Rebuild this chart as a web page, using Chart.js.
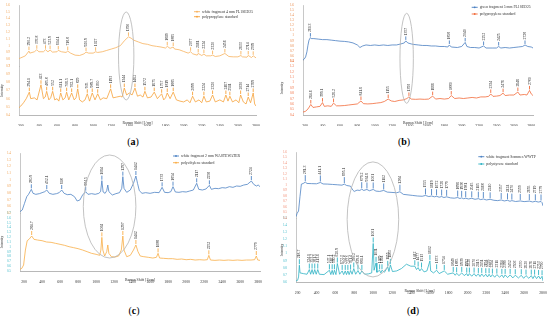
<!DOCTYPE html>
<html><head><meta charset="utf-8">
<script src="https://cdn.jsdelivr.net/npm/chart.js@4.4.1/dist/chart.umd.min.js"></script>
<style>
html,body{margin:0;padding:0;background:#fff;width:550px;height:322px;overflow:hidden;position:relative;}
canvas{position:absolute;}
.cap{position:absolute;font-family:"Liberation Serif","DejaVu Serif",serif;font-size:10px;color:#000;transform:translateX(-50%);line-height:1;white-space:nowrap;}
.cap b{font-weight:bold;}
</style></head><body>
<canvas id="ca" width="262" height="126" style="left:0;top:0"></canvas>
<canvas id="cb" width="260" height="126" style="left:280px;top:0"></canvas>
<canvas id="cc" width="265" height="133" style="left:0;top:150px"></canvas>
<canvas id="cd" width="268" height="146" style="left:280px;top:148px"></canvas>
<div class="cap" style="left:133px;top:137px">(<b>a</b>)</div>
<div class="cap" style="left:404px;top:137px">(<b>b</b>)</div>
<div class="cap" style="left:134px;top:306px">(<b>c</b>)</div>
<div class="cap" style="left:413px;top:306px">(<b>d</b>)</div>
<script>
const xTicks = [200,400,600,800,1000,1200,1400,1600,1800,2000,2200,2400,2600,2800];

// ---- (a) ----
const aTop = [[180,.81],[200,.82],[250,.85],[290.2,.92],[300,.89],[350,.91],[376.8,.94],[400,.91],[450,.91],[473,.94],[500,.91],[523.9,.935],[550,.905],[600,.91],[614.1,.93],[650,.91],[700,.90],[718.8,.92],[750,.89],[800,.86],[850,.855],[900,.88],[920.9,.905],[950,.89],[1000,.89],[1027,.91],[1050,.90],[1100,.91],[1150,.93],[1200,.95],[1250,.97],[1300,1.0],[1350,1.08],[1390,1.13],[1420,1.11],[1450,1.08],[1500,1.055],[1550,1.03],[1600,1.02],[1650,1.0],[1700,.99],[1750,.98],[1800,.965],[1819,.99],[1850,.96],[1885,.98],[1900,.95],[1950,.94],[2000,.915],[2050,.89],[2077,.91],[2100,.88],[2150,.86],[2161,.885],[2200,.855],[2224,.875],[2250,.85],[2300,.85],[2320,.86],[2350,.84],[2400,.85],[2456,.885],[2500,.84],[2550,.835],[2600,.835],[2633,.855],[2650,.835],[2700,.83],[2714,.855],[2750,.825],[2769,.85],[2800,.82]];
const aBot = [[180,.49],[200,.51],[230,.55],[260,.60],[294.1,.68],[310,.60],[350,.61],[380,.585],[423,.77],[450,.60],[470,.62],[485.8,.69],[510,.585],[530,.61],[552,.69],[575,.585],[600,.60],[620,.57],[641.1,.67],[665,.585],[690,.61],[706.5,.68],[730,.585],[762.1,.67],[790,.585],[810,.61],[829,.72],[850,.585],[880,.56],[910,.585],[935,.66],[960,.57],[989.7,.67],[1020,.585],[1050,.66],[1080,.585],[1110,.61],[1150,.60],[1193,.72],[1220,.61],[1260,.62],[1300,.63],[1320,.62],[1344,.73],[1370,.645],[1400,.67],[1430,.645],[1462,.73],[1490,.63],[1520,.645],[1550,.62],[1572,.69],[1600,.61],[1640,.62],[1675,.68],[1710,.60],[1757,.66],[1780,.585],[1800,.61],[1819,.67],[1850,.60],[1885,.68],[1920,.585],[1960,.57],[2000,.56],[2040,.585],[2070,.55],[2099,.63],[2130,.56],[2170,.585],[2200,.55],[2224,.63],[2250,.56],[2290,.57],[2320,.645],[2350,.56],[2400,.585],[2440,.56],[2467,.645],[2490,.57],[2511,.63],[2540,.56],[2580,.585],[2610,.55],[2630,.645],[2660,.56],[2690,.535],[2714,.62],[2740,.55],[2769,.67],[2785,.535],[2800,.51]];
const aTopPeaks = [290.2,376.8,473,523.9,614.1,718.8,920.9,1027,1390,1819,1885,2077,2161,2224,2320,2456,2633,2714,2769];
const aBotPeaks = [294.1,423,485.8,552,641.1,706.5,762.1,829,935,989.7,1050,1193,1344,1462,1572,1675,1757,1819,1885,2099,2224,2320,2467,2511,2630,2714,2769];
const aLegend = ['white fragment 4 mm FL1SED25','polypropylene standard'];

// ---- (b) ----
const bTop = [[175,.52],[190,.54],[205,.58],[220,.68],[232,.81],[244,.91],[260.3,.96],[270,.94],[300,.94],[350,.93],[400,.92],[450,.92],[500,.91],[550,.90],[600,.89],[650,.885],[700,.875],[750,.855],[800,.815],[830,.765],[860,.795],[900,.815],[950,.805],[1000,.815],[1050,.805],[1100,.815],[1150,.805],[1200,.815],[1250,.815],[1300,.835],[1340,.855],[1357,.895],[1380,.855],[1420,.835],[1450,.825],[1500,.815],[1550,.805],[1600,.805],[1650,.795],[1700,.795],[1750,.785],[1800,.785],[1840,.775],[1858,.815],[1880,.775],[1950,.765],[2000,.785],[2040,.865],[2060,.785],[2100,.765],[2150,.765],[2200,.755],[2252,.795],[2280,.755],[2350,.755],[2400,.755],[2425,.785],[2450,.755],[2500,.765],[2550,.755],[2600,.765],[2650,.775],[2700,.785],[2728,.815],[2760,.785],[2800,.775],[2820,.755]];
const bBot = [[175,.455],[200,.465],[220,.49],[240,.53],[264.6,.595],[290,.54],[330,.55],[370,.56],[399.1,.63],[420,.56],[460,.57],[500,.56],[526.2,.62],[560,.57],[600,.57],[650,.575],[700,.585],[750,.595],[800,.605],[841.6,.66],[870,.61],[920,.605],[970,.61],[1020,.62],[1070,.63],[1110,.65],[1155,.695],[1190,.66],[1230,.65],[1280,.67],[1330,.68],[1370,.705],[1393,.735],[1420,.695],[1470,.69],[1520,.695],[1570,.69],[1620,.695],[1666,.75],[1700,.695],[1750,.705],[1800,.695],[1850,.705],[1880,.76],[1920,.705],[1970,.715],[2020,.705],[2070,.715],[2120,.725],[2170,.715],[2220,.735],[2270,.735],[2310,.745],[2334,.79],[2360,.745],[2400,.75],[2440,.76],[2476,.805],[2500,.76],[2550,.77],[2600,.77],[2646,.825],[2670,.77],[2720,.78],[2750,.77],[2780,.855],[2800,.79],[2820,.76]];
const bTopPeaks = [260.3,1357,1858,2040,2252,2425,2728];
const bBotPeaks = [264.6,399.1,526.2,841.6,1155,1393,1666,1880,2334,2476,2646,2780];
const bLegend = ['green fragment 5 mm FL1SED25','polypropylene standard'];

// ---- (c) ----
const cTop = [[155,.52],[180,.545],[205,.645],[230,.745],[250,.78],[280.9,.855],[300,.795],[330,.78],[370,.79],[400,.805],[430,.82],[452.1,.845],[480,.795],[520,.78],[560,.79],[590,.805],[618,.845],[645,.795],[680,.775],[720,.78],[760,.745],[790,.68],[820,.695],[850,.77],[884.5,.82],[910,.78],[950,.79],[990,.78],[1030,.795],[1050,.82],[1064,.985],[1078,.815],[1100,.795],[1118,.835],[1130,.92],[1142,.82],[1180,.77],[1220,.79],[1260,.805],[1285,.87],[1297,1.045],[1310,.87],[1340,.81],[1380,.845],[1415,.945],[1442,1.055],[1460,.945],[1480,.835],[1510,.795],[1550,.805],[1600,.795],[1650,.81],[1700,.805],[1733,.885],[1760,.81],[1800,.805],[1830,.82],[1854,.895],[1880,.815],[1920,.81],[1960,.82],[2000,.815],[2040,.83],[2080,.845],[2117,.945],[2140,.855],[2180,.845],[2220,.86],[2258,.915],[2280,.855],[2320,.87],[2360,.865],[2400,.88],[2440,.875],[2480,.895],[2520,.885],[2560,.905],[2600,.90],[2640,.92],[2680,.93],[2724,.98],[2750,.93],[2780,.905],[2800,.92],[2820,.895]];
const cBot = [[155,.534],[175,.555],[195,.624],[215,.934],[235,1.128],[255,1.155],[284.7,1.224],[310,1.155],[350,1.141],[400,1.127],[450,1.10],[500,1.093],[550,1.072],[600,1.052],[650,1.031],[700,1.003],[750,.983],[800,.962],[850,.934],[900,.90],[950,.865],[1000,.845],[1040,.824],[1053,.934],[1064,1.196],[1075,.934],[1095,.81],[1118,.90],[1130,1.038],[1142,.865],[1170,.796],[1210,.789],[1250,.81],[1280,.934],[1297,1.224],[1310,.934],[1340,.796],[1380,.824],[1415,.934],[1442,1.038],[1465,.90],[1490,.81],[1530,.796],[1580,.783],[1630,.768],[1670,.783],[1688,.865],[1705,.768],[1750,.762],[1800,.755],[1850,.755],[1900,.741],[1950,.748],[2000,.734],[2050,.741],[2100,.727],[2150,.734],[2200,.727],[2235,.734],[2252,.824],[2270,.727],[2320,.72],[2370,.727],[2420,.72],[2470,.727],[2520,.72],[2570,.727],[2620,.72],[2670,.727],[2720,.727],[2760,.734],[2779,.81],[2795,.727],[2820,.72]];
const cTopPeaks = [280.9,452.1,618,884.5,1064,1297,1442,1733,1854,2117,2258,2724];
const cBotPeaks = [284.7,1064,1297,1442,1688,2252,2779];
const cLegend = ['white fragment 2 mm WASTEWATER','polyethylene standard'];

// ---- (d) ----
const dTop = [[183,.424],[195,.485],[210,.527],[225,.786],[240,1.016],[260,1.028],[281.3,1.052],[300,1.028],[350,1.025],[400,1.022],[441.1,1.046],[470,1.019],[520,1.016],[570,1.01],[620,1.004],[670,.997],[695.1,1.016],[720,.991],[760,.979],[785,.907],[800,.883],[830,.907],[860,.901],[879.2,.925],[900,.901],[934.6,.919],[960,.895],[1001,.919],[1030,.889],[1070,.883],[1112,.901],[1150,.871],[1200,.865],[1250,.859],[1284,.877],[1320,.83],[1370,.82],[1420,.81],[1470,.80],[1520,.795],[1555,.81],[1590,.79],[1619,.80],[1650,.785],[1672,.795],[1700,.778],[1726,.79],[1750,.772],[1779,.785],[1820,.766],[1860,.76],[1896,.772],[1920,.754],[1938,.766],[1960,.75],[1981,.76],[2010,.746],[2045,.758],[2080,.74],[2115,.752],[2140,.734],[2168,.746],[2200,.728],[2240,.74],[2280,.722],[2320,.716],[2357,.728],[2390,.71],[2424,.722],[2450,.704],[2470,.716],[2510,.70],[2559,.71],[2600,.698],[2655,.707],[2690,.692],[2719,.704],[2750,.69],[2779,.70],[2790,.68],[2800,.62]];
const dBot = [[183,.615],[200,.624],[210,.671],[218.7,.836],[226,.728],[260,.718],[300,.709],[324.1,.775],[338,.709],[353.2,.775],[367,.709],[381.5,.775],[397,.709],[413.6,.775],[430,.709],[480,.704],[537.1,.765],[552,.704],[566.4,.765],[578,.704],[590.2,.765],[606,.704],[620.9,.86],[645,.709],[672.3,.756],[688,.704],[704.8,.756],[718,.704],[732.5,.756],[746,.704],[761.4,.761],[777,.709],[795.2,.789],[815,.709],[839.6,.761],[860,.709],[881.1,.756],[910,.709],[950,.714],[985,.728],[1001,1.142],[1010,.765],[1031,.869],[1040,.737],[1069,.765],[1082,.728],[1094,.765],[1120,.737],[1155,.813],[1168,.747],[1183,.841],[1205,.747],[1250,.756],[1300,.789],[1353,.85],[1400,.822],[1442,.822],[1460,.775],[1477,.803],[1495,.756],[1513,.789],[1540,.742],[1570,.756],[1602,.897],[1610,.756],[1640,.728],[1673,.765],[1700,.718],[1754,.756],[1790,.709],[1849,.728],[1870,.695],[1885,.723],[1910,.69],[1939,.728],[1965,.69],[1992,.718],[2005,.685],[2020,.718],[2045,.681],[2070,.718],[2090,.681],[2115,.714],[2133,.676],[2151,.714],[2172,.676],[2194,.709],[2212,.671],[2229,.709],[2246,.671],[2264,.704],[2288,.667],[2311,.704],[2340,.667],[2364,.70],[2382,.662],[2399,.70],[2425,.662],[2452,.70],[2480,.657],[2506,.695],[2540,.657],[2570,.695],[2595,.652],[2620,.69],[2650,.652],[2676,.69],[2693,.648],[2711,.69],[2732,.648],[2753,.685],[2772,.643],[2790,.681],[2800,.615]];
const dTopPeaks = [281.3,441.1,695.1,879.2,934.6,1001,1112,1284,1555,1619,1672,1726,1779,1896,1938,1981,2045,2115,2168,2240,2357,2424,2470,2559,2655,2719,2779];
const dBotPeaks = [218.7,324.1,353.2,381.5,413.6,537.1,566.4,590.2,620.9,672.3,704.8,732.5,761.4,795.2,839.6,881.1,1001,1031,1069,1094,1155,1183,1442,1477,1513,1602,1673,1754,1849,1885,1939,1992,2020,2070,2115,2151,2194,2229,2264,2311,2364,2399,2452,2506,2570,2620,2676,2711,2753,2790];
const dLegend = ['white fragment Sommes WWTP','polystyrene standard'];

const SERIF = '"Liberation Serif","DejaVu Serif",serif';

const decorPlugin = {
  id: 'decor',
  afterDatasetsDraw(chart, args, o) {
    const ctx = chart.ctx, xs = chart.scales.x;
    ctx.save();
    chart.data.datasets.forEach(ds => {
      const ys = chart.scales[ds.yAxisID];
      ctx.font = '3.8px ' + SERIF;
      ctx.textAlign = 'left'; ctx.textBaseline = 'middle';
      (ds.peaks || []).forEach(p => {
        let best = ds.data[0];
        for (const d of ds.data) if (Math.abs(d.x - p) < Math.abs(best.x - p)) best = d;
        const px = xs.getPixelForValue(p), py = ys.getPixelForValue(best.y);
        ctx.strokeStyle = ds.borderColor; ctx.lineWidth = 0.9;
        ctx.beginPath(); ctx.moveTo(px, py - 1); ctx.lineTo(px, py - 1 - ds.tick); ctx.stroke();
        ctx.save(); ctx.translate(px, py - 2 - ds.tick); ctx.rotate(-Math.PI / 2);
        ctx.fillStyle = '#222'; ctx.fillText(String(p), 0, 0); ctx.restore();
      });
    });
    const e = o.ell;
    const cx = xs.getPixelForValue(e.x), rx = Math.abs(xs.getPixelForValue(e.x + e.rx) - cx);
    const top = chart.scales.yT.getPixelForValue(e.top), bot = chart.scales.yB.getPixelForValue(e.bot);
    ctx.strokeStyle = '#b4b4b4'; ctx.lineWidth = 0.8;
    ctx.beginPath(); ctx.ellipse(cx, (top + bot) / 2, rx, Math.abs(bot - top) / 2, 0, 0, Math.PI * 2); ctx.stroke();
    const L = o.leg;
    ctx.font = '3.8px ' + SERIF; ctx.textAlign = 'left'; ctx.textBaseline = 'middle';
    chart.data.datasets.forEach((ds, i) => {
      const y = L.y + i * L.dy;
      ctx.strokeStyle = ds.borderColor; ctx.lineWidth = 0.9;
      ctx.beginPath(); ctx.moveTo(L.x, y); ctx.lineTo(L.x + 6, y); ctx.stroke();
      ctx.fillStyle = ds.borderColor; ctx.beginPath(); ctx.arc(L.x + 3, y, 0.9, 0, Math.PI * 2); ctx.fill();
      ctx.fillStyle = '#333'; ctx.fillText(L.items[i], L.x + 8, y);
    });
    ctx.restore();
  }
};

function build(id, o) {
  const xy = a => a.map(p => ({x: p[0], y: p[1]}));
  const yAxis = (rng, w, col, title) => ({
    type: 'linear', position: 'left', stack: 'v', stackWeight: w, min: rng[0], max: rng[1],
    ticks: {stepSize: 0.1, font: {family: SERIF, size: 3.3}, color: col, padding: 1, autoSkip: false,
      callback: v => String(+(+v).toFixed(1))},
    grid: {display: false}, border: {display: true, color: '#b0b0b0', width: 0.7},
    title: {display: !!title, text: title || '', font: {family: SERIF, size: 3.6}, color: '#333', padding: 0},
    afterFit: s => { s.width = o.yw; }
  });
  new Chart(document.getElementById(id), {
    type: 'line',
    data: {datasets: [
      {data: xy(o.top), yAxisID: 'yT', borderColor: o.cT, borderWidth: 0.8, pointRadius: 0, fill: false, peaks: o.pT, tick: o.tT},
      {data: xy(o.bot), yAxisID: 'yB', borderColor: o.cB, borderWidth: 0.8, pointRadius: 0, fill: false, peaks: o.pB, tick: o.tB}
    ]},
    options: {
      responsive: false, animation: false, devicePixelRatio: 1,
      layout: {padding: {top: o.pad[0], right: o.pad[1], bottom: 0, left: 0}},
      plugins: {legend: {display: false}, tooltip: {enabled: false}, decor: {ell: o.ell, leg: o.leg}},
      scales: {
        x: {type: 'linear', min: o.xr[0], max: o.xr[1],
          afterBuildTicks: s => { s.ticks = xTicks.map(v => ({value: v})); },
          afterFit: s => { s.height = o.xh; },
          grid: {display: false}, border: {display: true, color: '#9a9a9a', width: 0.7},
          ticks: {font: {family: SERIF, size: 3.8}, color: '#333', padding: 1, maxRotation: 0, autoSkip: false, callback: v => String(v)},
          title: {display: true, text: 'Raman Shift [1/cm]', font: {family: SERIF, size: 3.8}, color: '#333', padding: {top: 0, bottom: 1}}},
        yB: yAxis(o.yB, o.wB, o.lB, 'Intensity'),
        yT: yAxis(o.yT, o.wT, o.lT, null)
      }
    },
    plugins: [decorPlugin]
  });
}

build('ca', {top: aTop, bot: aBot, pT: aTopPeaks, pB: aBotPeaks, tT: 3.5, tB: 3.5,
  cT: '#f8b35e', cB: '#f6a23a', lT: '#f0a050', lB: '#f0a050',
  xr: [180, 2800], yT: [0.7, 1.6], yB: [0.4, 1.0], wT: 61, wB: 49, yw: 19, xh: 11, pad: [5, 6],
  ell: {x: 1365, rx: 85, top: 1.497, bot: 0.584}, leg: {x: 194, y: 11.7, dy: 5, items: aLegend}});
build('cb', {top: bTop, bot: bBot, pT: bTopPeaks, pB: bBotPeaks, tT: 3.5, tB: 3.5,
  cT: '#4a7fc1', cB: '#f26b3a', lT: '#e8894a', lB: '#f06a3a',
  xr: [175, 2820], yT: [0.5, 1.6], yB: [0.4, 1.4], wT: 56, wB: 54, yw: 23, xh: 11, pad: [5, 7],
  ell: {x: 1367, rx: 77, top: 1.437, bot: 0.617}, leg: {x: 191.7, y: 7.3, dy: 6.7, items: bLegend}});
build('cc', {top: cTop, bot: cBot, pT: cTopPeaks, pB: cBotPeaks, tT: 4, tB: 4,
  cT: '#4e83c4', cB: '#f9ae48', lT: '#f0a050', lB: '#3cb8c8',
  xr: [155, 2820], yT: [0.5, 1.4], yB: [0.5, 1.7], wT: 60, wB: 58, yw: 20, xh: 12, pad: [3, 5],
  ell: {x: 1150, rx: 292, top: 1.37, bot: 0.769}, leg: {x: 173, y: 6, dy: 6.7, items: cLegend}});
build('cd', {top: dTop, bot: dBot, pT: dTopPeaks, pB: dBotPeaks, tT: 6, tB: 5,
  cT: '#4e83c4', cB: '#2fb3c4', lT: '#f08a70', lB: '#3cb8c8',
  xr: [183, 2800], yT: [0.4, 1.6], yB: [0.6, 1.5], wT: 66, wB: 64, yw: 16, xh: 12, pad: [4, 5],
  ell: {x: 998, rx: 273, top: 1.42, bot: 0.671}, leg: {x: 198.3, y: 8.7, dy: 7.3, items: dLegend}});
</script>
</body></html>
